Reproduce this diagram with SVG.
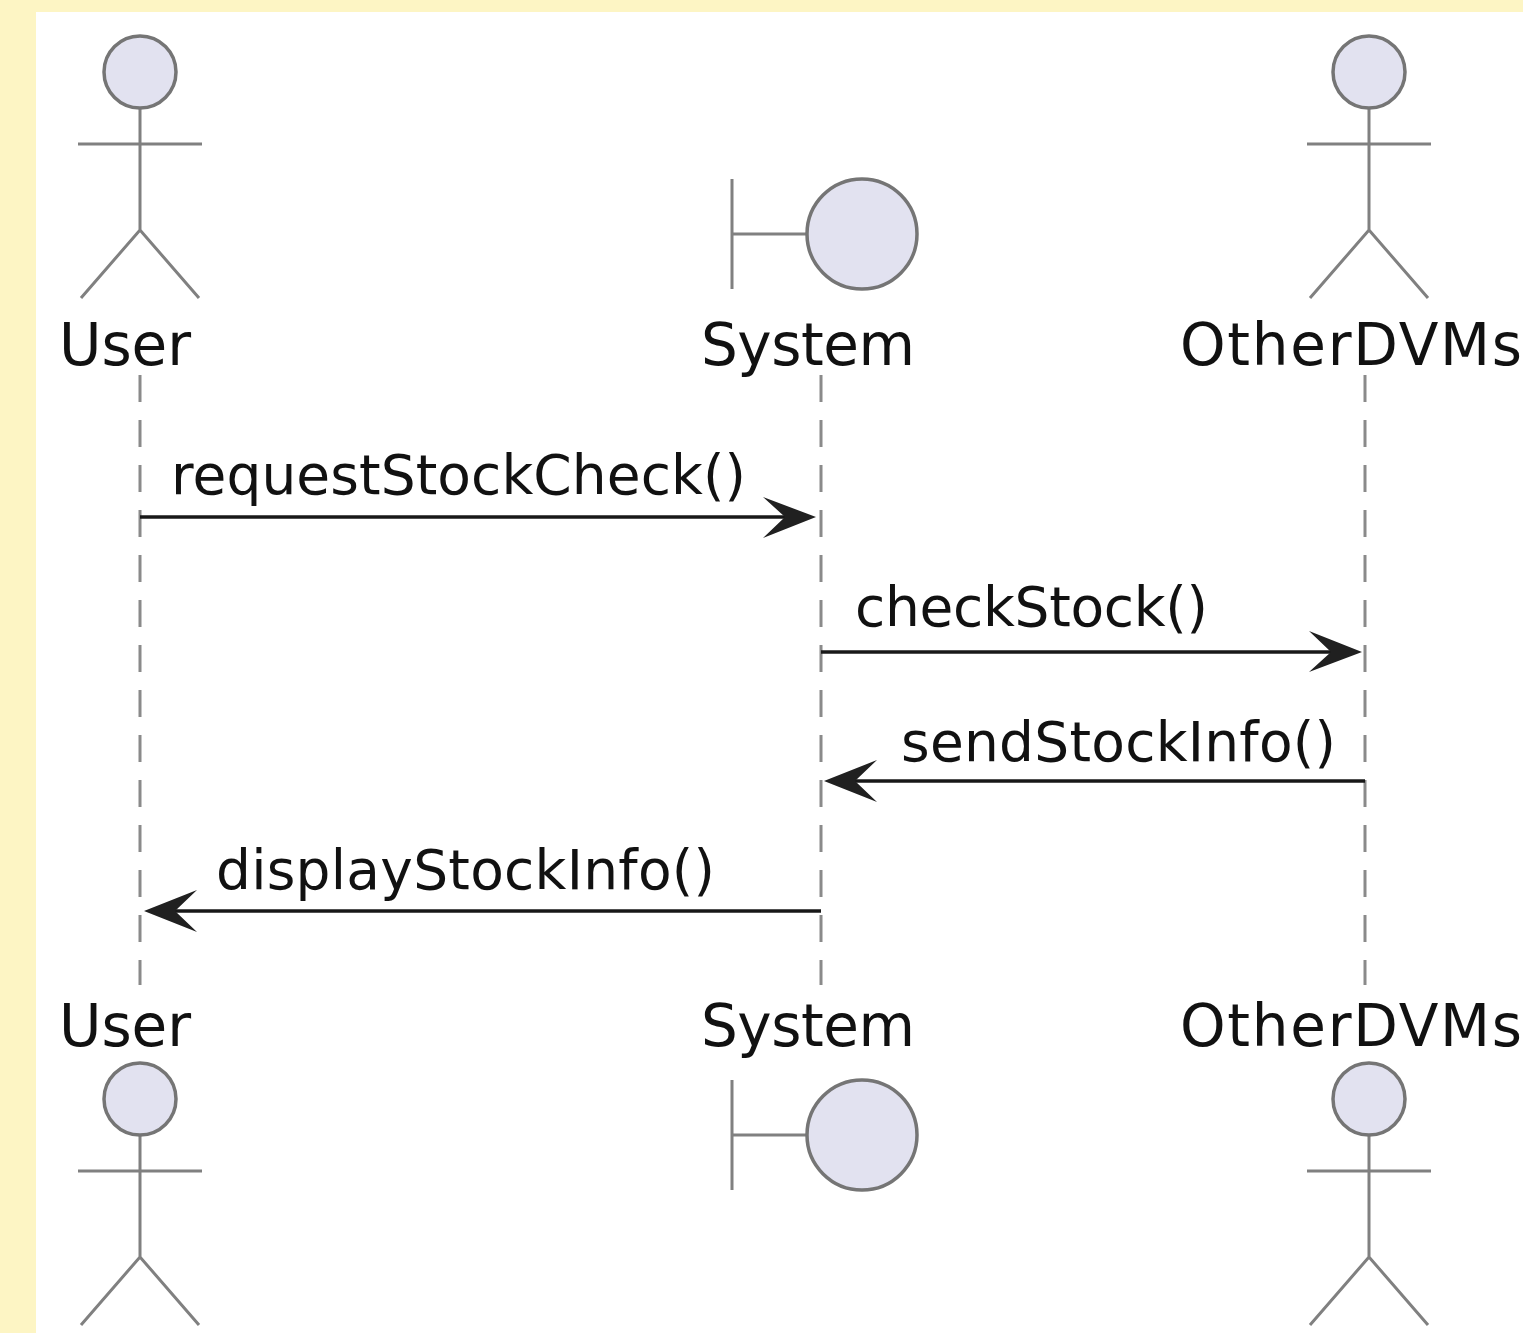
<svg xmlns="http://www.w3.org/2000/svg" width="1523" height="1333" viewBox="0 0 1523 1333">
<style>
.head{fill:#e2e2f0;stroke:#757575;stroke-width:3.5}
.limb{fill:none;stroke:#808080;stroke-width:3}
.life{stroke:#8a8a8a;stroke-width:3;stroke-dasharray:27 18;fill:none}
.msg{stroke:#181818;stroke-width:3.5;fill:none}
.arrowhead{fill:#202020;stroke:none}
text{font-family:"DejaVu Sans",sans-serif;fill:#111}
.name{font-size:58px}
.label{font-size:55px}
</style>
<defs>
<g id="actor"><path class="limb" d="M0 108V230M-62 144H62M-59 298L0 230L59 298"/><circle class="head" cx="0" cy="72" r="36"/></g>
<g id="boundary"><path class="limb" d="M732 179V289M732 234H807"/><circle class="head" cx="862" cy="234" r="55"/></g>
</defs>
<rect width="1523" height="1333" fill="#fdf5c4"/>
<rect x="36" y="12" width="1487" height="1321" fill="#fff"/>
<g id="connectors">
<path class="life" d="M140 375V985"/>
<path class="life" d="M821 375V985"/>
<path class="life" d="M1365 375V985"/>
<path class="msg" d="M140 517H800"/><path class="arrowhead" d="M816 517L763 497L785 517L763 538Z"/>
<path class="msg" d="M821 652H1345"/><path class="arrowhead" d="M1362 652L1309 631L1331 652L1309 672Z"/>
<path class="msg" d="M1365 781H840"/><path class="arrowhead" d="M824 781L877 760L855 781L877 802Z"/>
<path class="msg" d="M821 911H160"/><path class="arrowhead" d="M144 911L197 890L175 911L197 932Z"/>
</g>
<g id="user-top"><use href="#actor" x="140" y="0"/><text class="name" x="59" y="365" textLength="132">User</text></g>
<g id="system-top"><use href="#boundary"/><text class="name" x="701" y="365" textLength="214">System</text></g>
<g id="others-top"><use href="#actor" x="1369" y="0"/><text class="name" x="1180" y="365" textLength="342">OtherDVMs</text></g>
<g id="user-bottom"><use href="#actor" x="140" y="1027"/><text class="name" x="59" y="1046" textLength="132">User</text></g>
<g id="system-bottom"><use href="#boundary" y="901"/><text class="name" x="701" y="1046" textLength="214">System</text></g>
<g id="others-bottom"><use href="#actor" x="1369" y="1027"/><text class="name" x="1180" y="1046" textLength="342">OtherDVMs</text></g>
<g id="labels">
<text class="label" x="171" y="494" textLength="575">requestStockCheck()</text>
<text class="label" x="855" y="626" textLength="353">checkStock()</text>
<text class="label" x="901" y="761" textLength="435">sendStockInfo()</text>
<text class="label" x="216" y="889" textLength="499">displayStockInfo()</text>
</g>
</svg>
